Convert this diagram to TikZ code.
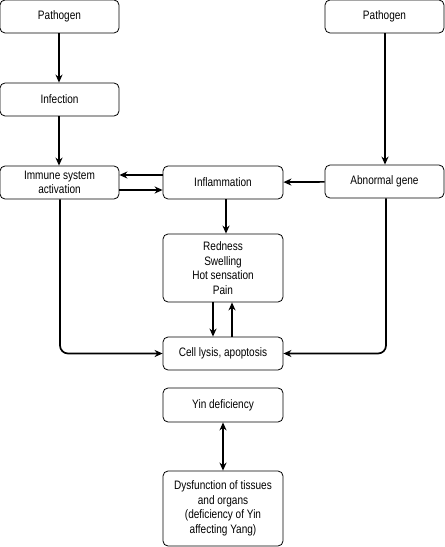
\documentclass[tikz,border=0pt]{standalone}
\usepackage{fontspec}
\setmainfont[FakeStretch=0.82]{Liberation Sans}
\usetikzlibrary{arrows.meta}
\begin{document}
\begin{tikzpicture}[x=1bp,y=-1bp,
  box/.style={draw, line width=0.8bp, rounded corners=5bp, align=center, inner sep=0pt, font=\fontsize{12.3}{14.6}\selectfont},
  arr/.style={line width=1.7bp, -{Stealth[length=8bp,width=7bp]}},
  darr/.style={line width=1.7bp, {Stealth[length=8bp,width=7bp]}-{Stealth[length=8bp,width=7bp]}}]
\useasboundingbox (0,0) rectangle (445,547);
\node[box, minimum width=119bp, minimum height=33bp] (p1) at (59.5,16.5) {Pathogen};
\node[box, minimum width=119bp, minimum height=33bp] (p2) at (384.5,16.5) {Pathogen};
\node[box, minimum width=119bp, minimum height=33bp] (inf) at (59.5,99.5) {Infection};
\node[box, minimum width=119bp, minimum height=33bp] (imm) at (59.5,182.5) {Immune system\\activation};
\node[box, minimum width=120bp, minimum height=33bp] (fla) at (223,182.5) {Inflammation};
\node[box, minimum width=119bp, minimum height=33bp] (abn) at (384.5,181.5) {Abnormal gene};
\node[box, minimum width=120bp, minimum height=68bp] (red) at (223,268) {Redness\\Swelling\\Hot sensation\\Pain};
\node[box, minimum width=120bp, minimum height=33bp] (cel) at (223,353.5) {Cell lysis, apoptosis};
\node[box, minimum width=120bp, minimum height=34bp] (yin) at (223,405) {Yin deficiency};
\node[box, minimum width=120bp, minimum height=75bp] (dys) at (223,508.5) {Dysfunction of tissues\\and organs\\(deficiency of Yin\\affecting Yang)};
\draw[arr] (p1.south -| 59,0) -- (inf.north -| 59,0);
\draw[arr] (inf.south -| 59,0) -- (imm.north -| 59,0);
\draw[arr] (p2.south -| 385,0) -- (abn.north -| 385,0);
\draw[arr] (fla.west |- 0,175) -- (imm.east |- 0,175);
\draw[arr] (imm.east |- 0,190) -- (fla.west |- 0,190);
\draw[arr] (abn) -- (fla);
\draw[arr] (fla.south -| 226,0) -- (red.north -| 226,0);
\draw[arr] (red.south -| 213,0) -- (cel.north -| 213,0);
\draw[arr] (cel.north -| 232,0) -- (red.south -| 232,0);
\draw[arr, rounded corners=8bp] (imm.south -| 60,0) |- (cel.west);
\draw[arr, rounded corners=8bp] (abn.south -| 386,0) |- (cel.east);
\draw[darr] (yin) -- (dys);
\end{tikzpicture}
\end{document}
